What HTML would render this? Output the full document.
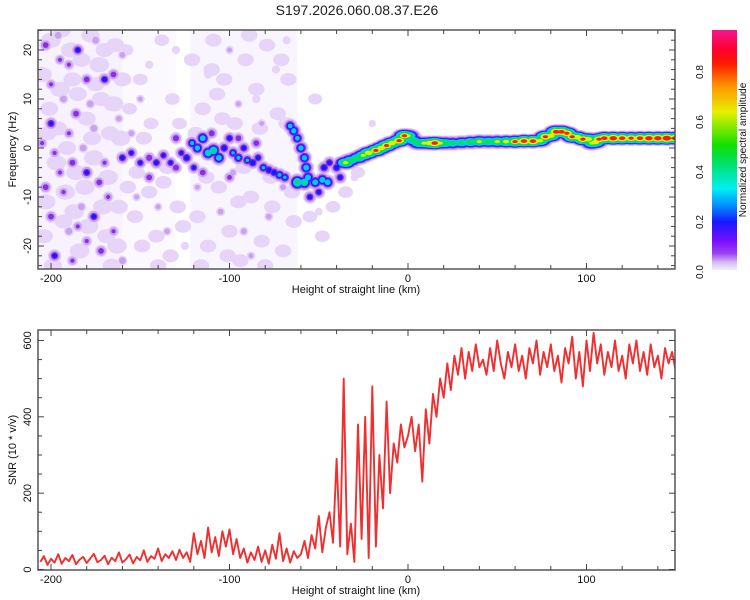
<!DOCTYPE html>
<html><head><meta charset="utf-8"><style>
html,body{margin:0;padding:0;background:#fff;}
svg{display:block;font-family:"Liberation Sans",sans-serif;}
</style></head><body>
<svg id="chart" width="750" height="600" viewBox="0 0 750 600" xmlns="http://www.w3.org/2000/svg">
<defs>
<linearGradient id="cbGrad" x1="0" y1="1" x2="0" y2="0">
<stop offset="0" stop-color="#f4ecfc"/><stop offset="0.03" stop-color="#d8c0f4"/>
<stop offset="0.07" stop-color="#9a40f0"/><stop offset="0.12" stop-color="#7a10ff"/>
<stop offset="0.2" stop-color="#1818ff"/><stop offset="0.27" stop-color="#0090ff"/>
<stop offset="0.34" stop-color="#00f0f0"/><stop offset="0.44" stop-color="#00e070"/>
<stop offset="0.52" stop-color="#10e000"/><stop offset="0.66" stop-color="#e8f000"/>
<stop offset="0.77" stop-color="#ff9000"/><stop offset="0.86" stop-color="#ff1a00"/>
<stop offset="0.92" stop-color="#ff0030"/><stop offset="1" stop-color="#f01890"/>
</linearGradient>
<clipPath id="clipTop"><rect x="38" y="30" width="637" height="239"/></clipPath>
<clipPath id="clipBot"><rect x="38" y="330" width="637" height="240"/></clipPath>
</defs>
<text x="357" y="15" font-size="14" text-anchor="middle" fill="#222">S197.2026.060.08.37.E26</text>
<g id="topPanel" clip-path="url(#clipTop)"></g>
<g id="botPanel" clip-path="url(#clipBot)"></g>
<g id="axes"></g>
</svg>
<script>
// ---------- data ----------
const snrStart = -206, snrStep = 2;
const snrValues = [20,35,12,28,18,40,15,30,22,38,14,26,33,17,29,41,19,25,36,14,31,22,45,18,27,39,16,33,24,50,20,35,28,55,22,40,30,48,
25,52,30,45,20,
95,40,75,30,110,45,85,35,100,60,105,40,80,
30,55,18,45,25,60,20,50,15,65,28,95,22,55,18,48,30,
40,75,30,90,55,140,45,110,
150,70,290,60,500,40,120,
20,380,80,400,30,480,60,
300,160,440,200,330,280,380,320,
350,400,310,380,230,420,330,460,400,500,
450,540,470,560,510,580,500,570,520,590,530,
550,510,580,520,600,540,500,570,530,590,520,560,500,580,540,600,510,570,530,590,520,560,490,580,540,610,500,570,480,600,520,620,540,590,510,570,530,600,520,560,500,590,540,600,520,570,510,590,530,560,500,580,540,570,520];

const ridgeX = [-35,-32,-28,-25,-22,-18,-15,-12,-9,-5,-2,0,3,6,9,12,15,18,21,25,30,35,40,45,50,55,60,65,70,74,77,80,83,86,89,92,95,98,101,103,105,107,110,115,120,125,130,135,140,145,150];
const ridgeF = [-3,-2.5,-2,-1.5,-1,-0.5,0,0.5,1,1.5,2.5,2.5,1.5,1,1,1,1,1,1,1,1.1,1.2,1.3,1.3,1.3,1.3,1.3,1.4,1.4,1.5,2.3,2.5,3.3,3.3,3,2.3,2.2,1.8,1.8,1,1.2,1.8,2,2,2,2,2,2,2,2,2];
const ridgeA = [.6,.5,.55,.6,.7,.75,.7,.75,.7,.8,.75,.6,.5,.55,.6,.7,.85,.6,.55,.5,.5,.55,.6,.55,.6,.65,.75,.85,.85,.65,.8,.7,.85,.85,.8,.75,.7,.8,.7,.6,.7,.8,.85,.9,.85,.8,.85,.9,.9,.95,.9];

const blobX = [-203,-196,-190,-185,-180,-200,-193,-186,-200,-190,-178,-170,-165,-198,-188,-180,-170,-203,-193,-183,-176,-168,-200,-190,-180,-172,-198,-188,-165,-160,-195,-175,-160,-205,-182,-176,-162,-195,-173,-185,
-150,-140,-135,-130,-145,-118,-112,-105,-100,-95,-92,-88,-82,-78,-74,-70,-68,-98,-85,-125,-152,-155,-30,-50,-20,
-160,-155,-150,-145,-141,-137,-133,-130,-127,-124,-121,-118,-115,-112,-109,-106,-103,-100,-98,-95,-92,-90,-87,-84,-81,-78,-75,-72,-69,-145,-130,-120,-110,-95,-115,-100,-85,
-66,-64,-62,-60,-58,-57,-56,-58,-62,-52,-48,-45,-47,-44,-55,-50,-40,-38];
const blobF = [21,23,17,20,14,13,10,7,5,3,9,14,15,-1,-3,-5,-3,-8,-9,-12,-14,-10,-14,-17,-19,-21,-22,-23,-17,-23,18,22,19,1,0,4,6,-5,-7,-16,
10,-12,-17,20,17,-8,15,-13,20,9,-17,-22,5,-14,16,-8,22,-5,10,-20,-10,3,-6,-13,5,
-2,-1,-3,-2,-3,-1.5,-3,-4,-1,-2,1,0,2,-1,-0.5,-2,0,2,-1,-2,0,-2.5,-3,-2,-4,-4.5,-5,-5.5,-6,-6,2,-4,3,2,-5,-6,1,
4.5,3.5,2,0,-2,-4,-6,-7,-7,-7,-6.5,-7,-4,-3,-10,-9,-4,-6];
const blobA = [.25,.15,.2,.3,.25,.2,.15,.25,.3,.2,.15,.3,.25,.2,.25,.3,.2,.25,.2,.15,.3,.2,.25,.15,.2,.25,.3,.2,.2,.15,.2,.15,.12,.2,.15,.15,.12,.2,.25,.2,
.1,.1,.12,.08,.08,.1,.08,.12,.1,.1,.12,.1,.1,.12,.08,.12,.08,.12,.08,.08,.1,.12,.06,.06,.05,
.3,.28,.28,.26,.3,.28,.28,.26,.28,.32,.36,.4,.42,.45,.48,.42,.32,.3,.34,.36,.3,.34,.32,.3,.34,.32,.32,.36,.34,.25,.26,.28,.26,.25,.25,.22,.25,
.38,.4,.38,.4,.4,.42,.42,.48,.52,.42,.42,.42,.32,.3,.3,.3,.32,.3];

const noiseX = [-205,-201,-197,-193,-189,-185,-181,-177,-173,-169,-165,-162,
-204,-200,-196,-192,-188,-184,-180,-176,-172,-168,-164,-161,
-203,-199,-195,-191,-187,-183,-179,-175,-171,-167,-163,-160,
-202,-194,-186,-178,-170,-166,
-157,-153,-149,-145,-141,-137,-133,-129,-156,-150,-144,-138,-132,-128,-152,-140,-135,-148,-158,-126,
-121,-118,-115,-112,-109,-106,-103,-100,-97,-94,-91,-88,-85,-82,-79,-76,-73,-70,-67,-64,
-119,-113,-107,-101,-95,-89,-83,-77,-71,-65,-116,-104,-92,-80,-68,-110,
-55,-48,-42,-35,-28,-52];
const noiseF = [15,8,-3,-15,20,11,-8,2,17,-18,9,-12,
-18,22,4,-9,14,-21,6,-2,10,-6,21,2,
-11,-24,12,0,-13,18,-16,13,-12,3,-20,14,
3,24,-5,23,20,-24,
-8,-14,-20,-9,-18,-7,-22,-12,8,14,5,22,10,5,-5,-24,-4,2,20,-16,
18,-14,8,-20,22,-8,14,-17,5,-23,18,-10,12,-19,21,-12,7,-21,14,-15,
3,-6,11,-22,-11,23,4,-6,18,-9,-24,6,-4,-24,5,16,
-14,-18,-12,-9,-5,10];
const noiseA = [.12,.1,.12,.1,.12,.1,.12,.1,.12,.1,.12,.1,
.1,.12,.1,.12,.1,.12,.1,.12,.1,.12,.1,.12,
.12,.1,.12,.1,.12,.1,.12,.1,.12,.1,.12,.1,
.1,.1,.12,.1,.1,.1,
.08,.08,.08,.08,.08,.08,.08,.08,.06,.06,.06,.06,.06,.06,.08,.08,.08,.08,.06,.08,
.08,.08,.08,.08,.08,.08,.08,.08,.08,.08,.08,.08,.08,.08,.08,.08,.08,.08,.08,.08,
.08,.08,.08,.08,.08,.08,.08,.08,.08,.08,.08,.08,.08,.08,.08,.08,
.06,.06,.06,.06,.05,.05];

const hazeX0 = [-207,-160,-122];
const hazeX1 = [-160,-130,-62];
const hazeOp = [0.35,0.15,0.25];

// ---------- scales ----------
const X0=38, X1=675, kmMin=-207.3, kmMax=149.6;
const xs = v => X0 + (v-kmMin)/(kmMax-kmMin)*(X1-X0);
const fy = f => 148 - 4.9*f;
const sy = v => 569.5 - 0.3817*v;
const NS="http://www.w3.org/2000/svg";
function mk(tag, attrs, parent){const e=document.createElementNS(NS,tag);for(const k in attrs)e.setAttribute(k,attrs[k]);parent.appendChild(e);return e;}

const levels=[0.03,0.1,0.2,0.27,0.34,0.45,0.6,0.75];
const lcol=["#e6d4f9","#c8a2f0","#8a2ee6","#1a1aff","#00c8ff","#00e060","#e8f000","#ff1818"];

const topG=document.getElementById('topPanel');
for(let i=0;i<hazeX0.length;i++){
  const r=mk('rect',{x:xs(hazeX0[i]),y:30,width:xs(hazeX1[i])-xs(hazeX0[i]),height:239,fill:'#e8d9fa',opacity:hazeOp[i]},topG);
  
  
}
for(let i=0;i<noiseX.length;i++){
  const c=mk('ellipse',{cx:xs(noiseX[i]),cy:fy(noiseF[i]),rx:5+noiseA[i]*40,ry:4+noiseA[i]*30,fill:'#e6d4f9'},topG);
  
  
}
for(let L=0;L<levels.length;L++){
  for(let i=0;i<blobX.length;i++){
    const a=blobA[i]; if(a<levels[L]) continue;
    const R=4+a*11; const r=Math.max(1.5,R*(1-levels[L]/(a+0.1)));
    const c=mk('circle',{cx:xs(blobX[i]),cy:fy(blobF[i]),r:r,fill:lcol[L]},topG);
    
    
  }
  for(let i=0;i<ridgeX.length;i++){
    const a=ridgeA[i]; if(a<levels[L]) continue;
    const R=9.5; const r=Math.max(1.8,R*(1-levels[L]/(a+0.12)));
    const e=mk('ellipse',{cx:xs(ridgeX[i]),cy:fy(ridgeF[i]),rx:r*1.5,ry:r*0.85,fill:lcol[L]},topG);
    
    
  }
}

const botG=document.getElementById('botPanel');
let d='';
snrValues.forEach((v,i)=>{const x=xs(snrStart+i*snrStep);d+=(i?'L':'M')+x.toFixed(1)+','+sy(v).toFixed(1);});
const snrPath=mk('path',{d:d,fill:'none',stroke:'#f03030','stroke-width':1.9,'stroke-linejoin':'round'},botG);



const axG=document.getElementById('axes');
const xTicks=[-200,-180,-160,-140,-120,-100,-80,-60,-40,-20,0,20,40,60,80,100,120,140];
const xLabels=[-200,-100,0,100];
const fTicks=[-24,-22,-20,-18,-16,-14,-12,-10,-8,-6,-4,-2,0,2,4,6,8,10,12,14,16,18,20,22,24];
const fLabels=[-20,-10,0,10,20];
const sTicks=[0,50,100,150,200,250,300,350,400,450,500,550,600];
const sLabels=[0,200,400,600];
function panel(y0,y1,yt,ytMaj,yfn,ytitle,pname){
  const fr=mk('rect',{x:X0,y:y0,width:X1-X0,height:y1-y0,fill:'none',stroke:'#555','stroke-width':1.5},axG);
  
  
  xTicks.forEach(t=>{const x=xs(t),len=t%100===0?6:4;
    mk('line',{x1:x,x2:x,y1:y1,y2:y1-len,stroke:'#444','stroke-width':1},axG);
    mk('line',{x1:x,x2:x,y1:y0,y2:y0+len,stroke:'#444','stroke-width':1},axG);});
  xLabels.forEach(t=>{const tx=mk('text',{x:xs(t),y:y1+13,'font-size':11,'text-anchor':'middle',fill:'#111'},axG);tx.textContent=t;
    
    });
  yt.forEach(t=>{const y=yfn(t),len=ytMaj.includes(t)?6:4;
    mk('line',{x1:X0,x2:X0+len,y1:y,y2:y,stroke:'#444','stroke-width':1},axG);
    mk('line',{x1:X1,x2:X1-len,y1:y,y2:y,stroke:'#444','stroke-width':1},axG);});
  ytMaj.forEach(t=>{const y=yfn(t);const tx=mk('text',{x:0,y:0,'font-size':11,'text-anchor':'middle',fill:'#111',transform:`translate(31,${y}) rotate(-90)`},axG);tx.textContent=t;
    
    });
  const xt=mk('text',{x:356,y:y1+24,'font-size':11,'text-anchor':'middle',fill:'#111'},axG);xt.textContent='Height of straight line (km)';
  
  
  const yy=mk('text',{x:0,y:0,'font-size':11,'text-anchor':'middle',fill:'#111',transform:`translate(16,${(y0+y1)/2}) rotate(-90)`},axG);yy.textContent=ytitle;
  
  
}
panel(30,269,fTicks,fLabels,fy,'Frequency (Hz)','spectrogram');
panel(330,570,sTicks,sLabels,sy,'SNR (10 * v/v)','snr');

const cbTicks=[0,0.2,0.4,0.6,0.8];
const cbY=v=>272-250*v;
const cb=mk('rect',{x:712,y:30,width:25,height:240,fill:'url(#cbGrad)'},axG);


cbTicks.forEach(t=>{const y=cbY(t);
  const tx=mk('text',{x:0,y:0,'font-size':10,'text-anchor':'middle',fill:'#111',transform:`translate(703,${y}) rotate(-90)`},axG);tx.textContent=t.toFixed(1);
  
  });
const cbt=mk('text',{x:0,y:0,'font-size':10,'text-anchor':'middle',fill:'#111',transform:'translate(746,150) rotate(-90)'},axG);cbt.textContent='Normalized spectral amplitude';


</script>
</body></html>
